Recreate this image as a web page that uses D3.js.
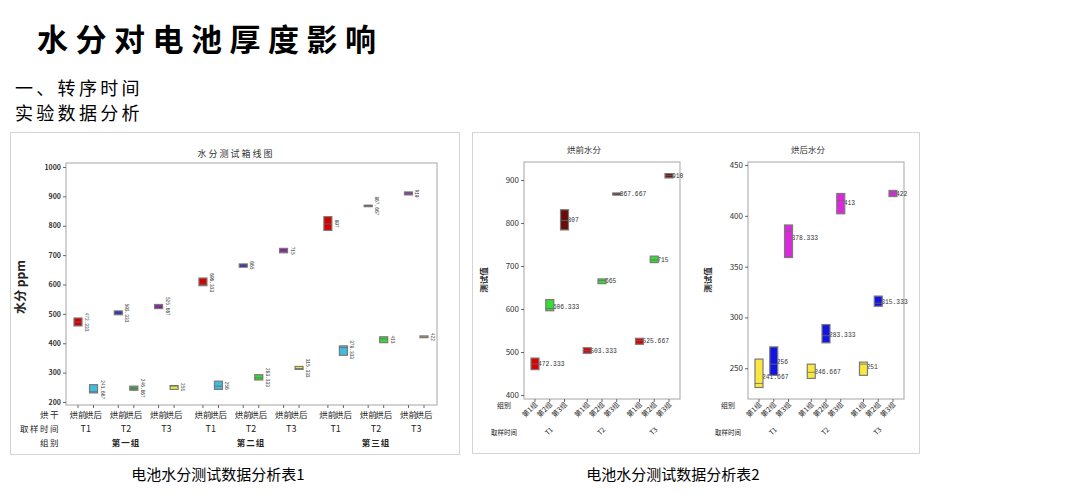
<!DOCTYPE html>
<html>
<head>
<meta charset="utf-8">
<script src="https://cdn.jsdelivr.net/npm/d3@7"></script>
<style>
body { margin: 0; background: #fff; }
text { font-family: "Noto Sans CJK SC", "Noto Sans", sans-serif; }
.mono { font-family: "Liberation Mono", "DejaVu Sans Mono", monospace; }
</style>
</head>
<body>
<svg id="chart" width="1080" height="495"></svg>
<script>
// ============================================
// DATA (three readings per cell: [time][group])
// ============================================
const groups = ['第一组', '第二组', '第三组'];
const groupShort = ['第1组', '第2组', '第3组'];
const times = ['T1', 'T2', 'T3'];
const stages = ['烘前', '烘后'];

const beforeData = [
    [[459, 472, 486], [596, 601, 622], [784, 806, 831]],
    [[497, 503, 510], [659, 666, 670], [865, 868, 870]],
    [[518, 527, 532], [708, 714, 723], [905, 910, 915]]
];
const afterData = [
    [[231, 235, 259], [243, 254, 271], [359, 385, 391]],
    [[240, 246, 254], [275, 282, 293], [402, 415, 422]],
    [[243, 254, 256], [311, 314, 321], [419, 422, 425]]
];

const leftTicks = [200, 300, 400, 500, 600, 700, 800, 900, 1000];
const beforeTicks = [400, 500, 600, 700, 800, 900];
const afterTicks = [250, 300, 350, 400, 450];

// colours
const leftBeforeColors = ['#d40000', '#1c1cc8', '#8c14a8'];          // by time
const leftAfterColors = [                                             // [group][time]
    ['#40bce0', '#3fa63f', '#f2ee30'],
    ['#40bce0', '#33dd33', '#f2ee30'],
    ['#40bce0', '#33dd33', '#f2ee30']
];
const beforeColors = ['#dc0000', '#33dd33', '#6a0c0c'];               // by group
const afterColors = ['#f8e840', '#1414e0', '#dc28dc'];

const svg = d3.select('#chart');
svg.append('rect').attr('width', 1080).attr('height', 495).attr('fill', '#fff');

function fmt(v) {
    return String(Math.round(v * 1000) / 1000);
}

function stats(vals) {
    const s = vals.slice().sort(d3.ascending);
    return { lo: s[0], med: d3.median(s), hi: s[s.length - 1], mean: d3.mean(s) };
}

function drawBox(g, cx, y, st, color, w) {
    g.append('rect')
        .attr('x', cx - w / 2)
        .attr('y', y(st.hi))
        .attr('width', w)
        .attr('height', Math.max(0.5, y(st.lo) - y(st.hi)))
        .attr('fill', color)
        .attr('stroke', '#7a7a7a')
        .attr('stroke-width', 1.2);
    g.append('line')
        .attr('x1', cx - w / 2).attr('x2', cx + w / 2)
        .attr('y1', y(st.med)).attr('y2', y(st.med))
        .attr('stroke', '#6a6a6a')
        .attr('stroke-width', 0.8);
}

// ============================================
// PAGE TEXT
// ============================================
svg.append('text')
    .attr('x', 37).attr('y', 51)
    .attr('font-size', 31).attr('font-weight', 700)
    .attr('letter-spacing', 7.5)
    .text('水分对电池厚度影响');

svg.append('text')
    .attr('x', 15).attr('y', 95)
    .attr('font-size', 18).attr('letter-spacing', 3.3)
    .text('一、转序时间');

svg.append('text')
    .attr('x', 15).attr('y', 120)
    .attr('font-size', 18).attr('letter-spacing', 3.3)
    .text('实验数据分析');

svg.append('text')
    .attr('x', 218).attr('y', 480)
    .attr('text-anchor', 'middle')
    .attr('font-size', 15)
    .text('电池水分测试数据分析表1');

svg.append('text')
    .attr('x', 673).attr('y', 480)
    .attr('text-anchor', 'middle')
    .attr('font-size', 15)
    .text('电池水分测试数据分析表2');

// ============================================
// LEFT CHART (all 18 boxes)
// ============================================
function renderLeft() {
    const g = svg.append('g');
    g.append('rect')
        .attr('x', 10.5).attr('y', 132.5).attr('width', 449).attr('height', 322)
        .attr('fill', '#fff').attr('stroke', '#d4d4d4');

    const plot = { x0: 66, x1: 437, y0: 163, y1: 405 };
    g.append('rect')
        .attr('x', plot.x0).attr('y', plot.y0)
        .attr('width', plot.x1 - plot.x0).attr('height', plot.y1 - plot.y0)
        .attr('fill', '#fff').attr('stroke', '#b4b4b4').attr('stroke-width', 1.2);

    const y = d3.scaleLinear().domain([189.8, 1013.6]).range([plot.y1, plot.y0]);
    const x = d3.scaleLinear().domain([0, 8.585]).range([78, 424]);
    const pos = (gi, ti, k) => x(gi * 3.1 + ti + k * 0.385);

    const yAxis = g.append('g')
        .attr('transform', `translate(${plot.x0},0)`)
        .call(d3.axisLeft(y).tickValues(leftTicks).tickFormat(d3.format('d')).tickSize(3).tickPadding(2));
    yAxis.select('.domain').remove();
    yAxis.selectAll('line').attr('stroke', '#666');
    yAxis.selectAll('text')
        .attr('font-size', 7).attr('font-weight', 700).attr('fill', '#333')
        .attr('font-family', 'Liberation Sans, Arial, sans-serif');

    g.append('text')
        .attr('x', 236).attr('y', 157)
        .attr('text-anchor', 'middle')
        .attr('font-size', 9).attr('letter-spacing', 2).attr('fill', '#333')
        .text('水分测试箱线图');

    g.append('text')
        .attr('transform', 'translate(25,287) rotate(-90)')
        .attr('text-anchor', 'middle')
        .attr('font-size', 12).attr('font-weight', 700).attr('fill', '#222')
        .text('水分 ppm');

    // row headers
    const rows = [['烘干', 418], ['取样时间', 432], ['组别', 446]];
    rows.forEach(([t, yy]) => {
        g.append('text')
            .attr('x', 60).attr('y', yy)
            .attr('text-anchor', 'end')
            .attr('font-size', 8.5).attr('letter-spacing', 1.5).attr('fill', '#222')
            .text(t);
    });

    const labels = g.append('g');
    const boxes = g.append('g');

    groups.forEach((gname, gi) => {
        times.forEach((tname, ti) => {
            [beforeData, afterData].forEach((src, k) => {
                const cx = pos(gi, ti, k);
                const st = stats(src[ti][gi]);
                const color = k === 0 ? leftBeforeColors[ti] : leftAfterColors[gi][ti];

                g.append('line')
                    .attr('x1', cx).attr('x2', cx)
                    .attr('y1', plot.y1).attr('y2', plot.y1 + 3)
                    .attr('stroke', '#666');

                g.append('text')
                    .attr('x', cx).attr('y', 418)
                    .attr('text-anchor', 'middle')
                    .attr('font-size', 8.5).attr('fill', '#222')
                    .text(stages[k]);

                labels.append('text')
                    .attr('class', 'mono')
                    .attr('transform', `translate(${cx + 7},${y(st.mean)}) rotate(90)`)
                    .attr('text-anchor', 'middle')
                    .attr('font-size', 4.5).attr('fill', '#333')
                    .text(fmt(st.mean));

                drawBox(boxes, cx, y, st, color, 8);
            });

            g.append('text')
                .attr('x', (pos(gi, ti, 0) + pos(gi, ti, 1)) / 2).attr('y', 432)
                .attr('text-anchor', 'middle')
                .attr('font-size', 9).attr('fill', '#222')
                .attr('font-family', 'Liberation Sans, Arial, sans-serif')
                .text(tname);
        });

        g.append('text')
            .attr('x', (pos(gi, 1, 0) + pos(gi, 1, 1)) / 2).attr('y', 446)
            .attr('text-anchor', 'middle')
            .attr('font-size', 8.5).attr('font-weight', 700).attr('letter-spacing', 1).attr('fill', '#222')
            .text(gname);
    });
}

// ============================================
// RIGHT CHARTS (before / after)
// ============================================
function renderSmall(plot, title, src, colors, yDomain, ticks) {
    const g = svg.append('g');

    g.append('rect')
        .attr('x', plot.x0).attr('y', plot.y0)
        .attr('width', plot.x1 - plot.x0).attr('height', plot.y1 - plot.y0)
        .attr('fill', '#fff').attr('stroke', '#b4b4b4').attr('stroke-width', 1.2);

    const y = d3.scaleLinear().domain(yDomain).range([plot.y1, plot.y0]);
    const x = d3.scaleLinear().domain([0, 9.08]).range([plot.x0 + 11, plot.x1 - 11]);
    const pos = (ti, gi) => x(ti * 3.54 + gi);

    const yAxis = g.append('g')
        .attr('transform', `translate(${plot.x0},0)`)
        .call(d3.axisLeft(y).tickValues(ticks).tickFormat(d3.format('d')).tickSize(3).tickPadding(2));
    yAxis.select('.domain').remove();
    yAxis.selectAll('line').attr('stroke', '#666');
    yAxis.selectAll('text')
        .attr('font-size', 8).attr('fill', '#333')
        .attr('font-family', 'Liberation Sans, Arial, sans-serif');

    g.append('text')
        .attr('x', (plot.x0 + plot.x1) / 2 - 18).attr('y', 153)
        .attr('text-anchor', 'middle')
        .attr('font-size', 8.5).attr('fill', '#333')
        .text(title);

    g.append('text')
        .attr('transform', `translate(${plot.x0 - 37},280) rotate(-90)`)
        .attr('text-anchor', 'middle')
        .attr('font-size', 8.5).attr('font-weight', 700).attr('fill', '#222')
        .text('测试值');

    g.append('text')
        .attr('x', plot.x0 - 20).attr('y', 408)
        .attr('text-anchor', 'middle')
        .attr('font-size', 7).attr('fill', '#222')
        .text('组别');

    g.append('text')
        .attr('x', plot.x0 - 20).attr('y', 435)
        .attr('text-anchor', 'middle')
        .attr('font-size', 6.5).attr('fill', '#222')
        .text('取样时间');

    const labels = g.append('g');
    const boxes = g.append('g');

    times.forEach((tname, ti) => {
        groupShort.forEach((gname, gi) => {
            const cx = pos(ti, gi);
            const st = stats(src[ti][gi]);

            g.append('line')
                .attr('x1', cx).attr('x2', cx)
                .attr('y1', plot.y1).attr('y2', plot.y1 + 3)
                .attr('stroke', '#666');

            g.append('text')
                .attr('transform', `translate(${cx + 3},${plot.y1 + 6}) rotate(-45)`)
                .attr('text-anchor', 'end')
                .attr('font-size', 7).attr('fill', '#222')
                .text(gname);

            labels.append('text')
                .attr('class', 'mono')
                .attr('x', cx + 3).attr('y', y(st.mean))
                .attr('dy', '0.35em')
                .attr('font-size', 6.3).attr('fill', '#333')
                .text(fmt(st.mean));

            drawBox(boxes, cx, y, st, colors[gi], 8);
        });

        g.append('text')
            .attr('transform', `translate(${pos(ti, 1) + 1},${433}) rotate(-45)`)
            .attr('text-anchor', 'middle')
            .attr('font-size', 7).attr('fill', '#222')
            .attr('font-family', 'Liberation Sans, Arial, sans-serif')
            .text(tname);
    });
}

svg.append('rect')
    .attr('x', 472.5).attr('y', 132.5).attr('width', 447).attr('height', 321)
    .attr('fill', '#fff').attr('stroke', '#d4d4d4');

renderLeft();
renderSmall({ x0: 524, x1: 680, y0: 162, y1: 399 }, '烘前水分', beforeData, beforeColors, [390.7, 942], beforeTicks);
renderSmall({ x0: 748, x1: 904, y0: 162, y1: 399 }, '烘后水分', afterData, afterColors, [219.7, 453], afterTicks);
</script>
</body>
</html>
